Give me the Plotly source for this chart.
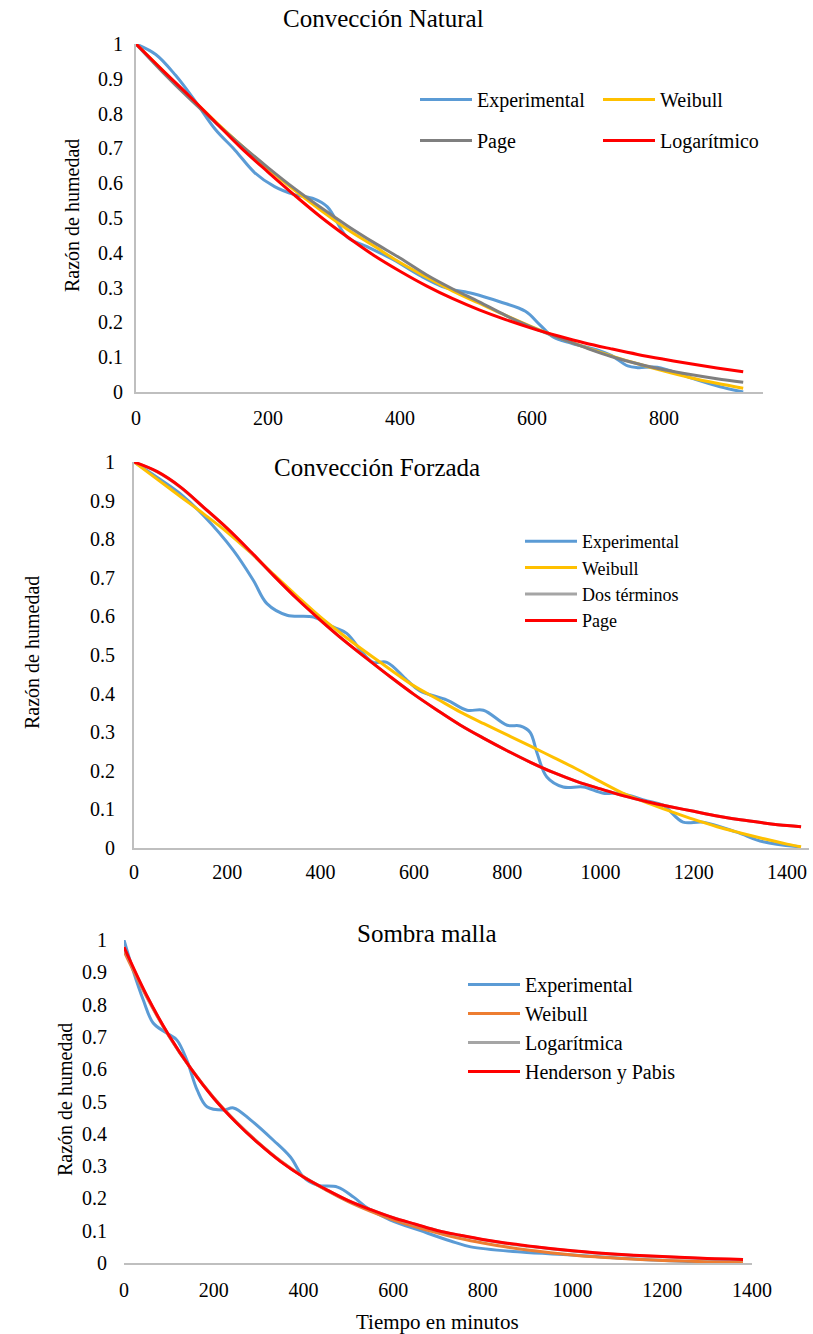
import plotly.graph_objects as go

W, H = 813, 1334

# ---------------- DATA ----------------
y_ticks = [0, 0.1, 0.2, 0.3, 0.4, 0.5, 0.6, 0.7, 0.8, 0.9, 1]
y_tick_text = ["0", "0.1", "0.2", "0.3", "0.4", "0.5", "0.6", "0.7", "0.8", "0.9", "1"]
x_ticks_nat = [0, 200, 400, 600, 800]
x_ticks_fz = [0, 200, 400, 600, 800, 1000, 1200, 1400]
x_ticks_sm = [0, 200, 400, 600, 800, 1000, 1200, 1400]

# Panel 1: Convección Natural
t_exp_nat = [0, 30, 60, 90, 120, 150, 180, 210, 240, 270, 290, 320, 350, 390, 430, 470,
             510, 550, 590, 612, 632, 660, 700, 720, 745, 760, 790, 835, 885, 920]
exp_nat = [1.0, 0.97, 0.91, 0.835, 0.755, 0.695, 0.63, 0.59, 0.567, 0.555, 0.532, 0.445,
           0.418, 0.38, 0.335, 0.299, 0.283, 0.26, 0.232, 0.193, 0.158, 0.14, 0.12, 0.105,
           0.075, 0.07, 0.071, 0.044, 0.015, 0.0]
t_mod_nat = [0, 40, 80, 120, 160, 200, 240, 280, 320, 360, 400, 440, 480, 520, 560, 600,
             640, 680, 720, 760, 800, 840, 880, 920]
weibull_nat = [1.0, 0.925, 0.85, 0.778, 0.708, 0.642, 0.58, 0.522, 0.468, 0.42, 0.372, 0.33,
               0.29, 0.255, 0.22, 0.187, 0.157, 0.129, 0.104, 0.081, 0.06, 0.041, 0.025, 0.011]
page_nat = [1.0, 0.92, 0.845, 0.775, 0.708, 0.645, 0.585, 0.53, 0.478, 0.43, 0.385, 0.337,
            0.296, 0.259, 0.22, 0.186, 0.156, 0.128, 0.102, 0.081, 0.064, 0.05, 0.038, 0.028]
log_nat = [1.0, 0.925, 0.852, 0.776, 0.70, 0.632, 0.566, 0.503, 0.446, 0.393, 0.347, 0.305,
           0.268, 0.236, 0.208, 0.183, 0.161, 0.141, 0.124, 0.108, 0.094, 0.081, 0.069, 0.058]

# Panel 2: Convección Forzada
t_exp_fz = [0, 50, 99, 150, 213, 256, 285, 328, 385, 428, 456, 492, 513, 542, 585, 613, 671,
            714, 749, 800, 828, 849, 864, 885, 920, 963, 1006, 1042, 1100, 1134, 1177, 1220,
            1292, 1349, 1428]
exp_fz = [1.0, 0.96, 0.918, 0.86, 0.771, 0.693, 0.633, 0.603, 0.598, 0.572, 0.556, 0.503,
          0.481, 0.481, 0.435, 0.407, 0.383, 0.357, 0.357, 0.318, 0.316, 0.30, 0.246, 0.184,
          0.158, 0.158, 0.142, 0.142, 0.122, 0.111, 0.067, 0.067, 0.041, 0.016, 0.003]
t_mod_fz = [0, 50, 100, 150, 200, 250, 300, 350, 400, 450, 500, 550, 600, 650, 700, 750, 800,
            850, 900, 950, 1000, 1050, 1100, 1150, 1200, 1250, 1300, 1350, 1400, 1430]
weibull_fz = [1.0, 0.955, 0.91, 0.865, 0.818, 0.765, 0.708, 0.652, 0.598, 0.55, 0.505, 0.462,
              0.42, 0.386, 0.352, 0.322, 0.293, 0.264, 0.234, 0.204, 0.172, 0.141, 0.117,
              0.095, 0.074, 0.055, 0.039, 0.024, 0.01, 0.003]
page_fz = [1.0, 0.975, 0.935, 0.882, 0.828, 0.768, 0.705, 0.645, 0.59, 0.538, 0.49, 0.443,
           0.398, 0.357, 0.318, 0.284, 0.252, 0.222, 0.195, 0.172, 0.153, 0.135, 0.12, 0.107,
           0.095, 0.083, 0.073, 0.065, 0.058, 0.055]
dos_terminos_fz = [1.0, 0.974, 0.934, 0.881, 0.827, 0.767, 0.705, 0.645, 0.59, 0.538, 0.49,
                   0.443, 0.398, 0.357, 0.318, 0.284, 0.252, 0.222, 0.195, 0.172, 0.153, 0.135,
                   0.12, 0.107, 0.095, 0.083, 0.073, 0.065, 0.058, 0.055]

# Panel 3: Sombra malla
t_exp_sm = [0, 20, 43, 65, 95, 118, 140, 163, 185, 222, 244, 282, 333, 371, 400, 431, 476,
            512, 543, 594, 661, 728, 773, 885, 997, 1108, 1258, 1376]
exp_sm = [1.0, 0.907, 0.814, 0.743, 0.712, 0.69, 0.628, 0.536, 0.484, 0.474, 0.48, 0.443,
          0.38, 0.328, 0.266, 0.241, 0.235, 0.204, 0.17, 0.133, 0.10, 0.068, 0.05, 0.034,
          0.025, 0.015, 0.005, 0.003]
t_mod_sm = [0, 50, 100, 150, 200, 250, 300, 350, 400, 450, 500, 550, 600, 650, 700, 750, 800,
            850, 900, 950, 1000, 1050, 1100, 1150, 1200, 1250, 1300, 1350, 1380]
weibull_sm = [0.965, 0.825, 0.703, 0.60, 0.512, 0.437, 0.372, 0.315, 0.267, 0.226, 0.19, 0.16,
              0.134, 0.112, 0.093, 0.076, 0.062, 0.05, 0.04, 0.032, 0.025, 0.019, 0.015,
              0.011, 0.008, 0.006, 0.004, 0.003, 0.002]
logaritmica_sm = [0.975, 0.828, 0.704, 0.60, 0.511, 0.436, 0.371, 0.314, 0.267, 0.228, 0.193,
                  0.165, 0.14, 0.119, 0.10, 0.085, 0.072, 0.061, 0.052, 0.044, 0.037, 0.031,
                  0.026, 0.022, 0.019, 0.016, 0.013, 0.011, 0.01]
henderson_sm = [0.978, 0.83, 0.705, 0.60, 0.51, 0.435, 0.37, 0.313, 0.266, 0.228, 0.193, 0.165,
                0.14, 0.12, 0.10, 0.086, 0.073, 0.062, 0.053, 0.045, 0.038, 0.032, 0.027,
                0.023, 0.02, 0.017, 0.014, 0.012, 0.011]

# ---------------- STYLE ----------------
FONT = "Liberation Serif, Times New Roman, serif"
BLUE = "#5B9BD5"
YELLOW = "#FFC000"
ORANGE = "#ED7D31"
GRAY_DARK = "#7F7F7F"
GRAY = "#A5A5A5"
RED = "#FF0000"
AXIS = "#BFBFBF"
LW = 3


def fx(p):
    return p / W


def fy(p):
    return 1 - p / H


fig = go.Figure()


def add(x, y, name, color, xa, ya, legend, group):
    fig.add_trace(go.Scatter(
        x=x, y=y, name=name, mode="lines",
        line=dict(color=color, width=LW, shape="spline", smoothing=1.0),
        xaxis=xa, yaxis=ya, legend=legend, legendgroup=group,
        hoverinfo="skip"))


# Panel 1
add(t_exp_nat, exp_nat, "Experimental", BLUE, "x", "y", "legend", "a1")
add(t_mod_nat, weibull_nat, "Weibull", YELLOW, "x", "y", "legend4", "b1")
add(t_mod_nat, page_nat, "Page", GRAY_DARK, "x", "y", "legend", "c1")
add(t_mod_nat, log_nat, "Logarítmico", RED, "x", "y", "legend4", "d1")
# Panel 2
add(t_exp_fz, exp_fz, "Experimental", BLUE, "x2", "y2", "legend2", "a2")
add(t_mod_fz, weibull_fz, "Weibull", YELLOW, "x2", "y2", "legend2", "b2")
add(t_mod_fz, dos_terminos_fz, "Dos términos", GRAY, "x2", "y2", "legend2", "c2")
add(t_mod_fz, page_fz, "Page", RED, "x2", "y2", "legend2", "d2")
# Panel 3
add(t_exp_sm, exp_sm, "Experimental", BLUE, "x3", "y3", "legend3", "a3")
add(t_mod_sm, weibull_sm, "Weibull", ORANGE, "x3", "y3", "legend3", "b3")
add(t_mod_sm, logaritmica_sm, "Logarítmica", GRAY, "x3", "y3", "legend3", "c3")
add(t_mod_sm, henderson_sm, "Henderson y Pabis", RED, "x3", "y3", "legend3", "d3")

tickfont = dict(family=FONT, size=20, color="#000000")


def xaxis(dom, rng, ticks, anchor, standoff):
    return dict(domain=[fx(dom[0]), fx(dom[1])], range=rng, tickmode="array",
                tickvals=ticks, ticktext=[str(t) for t in ticks], showgrid=False,
                zeroline=False, showline=True, linecolor=AXIS, linewidth=2,
                ticks="", tickfont=tickfont, anchor=anchor, automargin=False,
                ticklabelstandoff=standoff, fixedrange=True)


def yaxis(dom, anchor, showline, standoff):
    return dict(domain=[fy(dom[1]), fy(dom[0])], range=[0, 1], tickmode="array",
                tickvals=y_ticks, ticktext=y_tick_text, showgrid=False, zeroline=False,
                showline=showline, linecolor=AXIS, linewidth=2, ticks="",
                tickfont=tickfont, anchor=anchor, ticklabelstandoff=standoff,
                automargin=False, fixedrange=True)


def legend(xp, yp, gap, size=20):
    return dict(x=fx(xp), y=fy(yp), xanchor="left", yanchor="top", orientation="v",
                bgcolor="rgba(0,0,0,0)", borderwidth=0, itemwidth=52,
                tracegroupgap=gap, font=dict(family=FONT, size=size, color="#000000"),
                itemclick=False, itemdoubleclick=False)


annotations = [
    dict(text="Convección Natural", x=fx(383), y=fy(19)),
    dict(text="Convección Forzada", x=fx(377), y=fy(468)),
    dict(text="Sombra malla", x=fx(427), y=fy(933)),
]
annotations = [dict(a, xref="paper", yref="paper", showarrow=False, xanchor="center",
                    yanchor="middle", font=dict(family=FONT, size=25, color="#000000"))
               for a in annotations]
for xp, yp in [(72, 216), (32, 653), (65, 1100)]:
    annotations.append(dict(text="Razón de humedad", x=fx(xp), y=fy(yp), xref="paper",
                            yref="paper", showarrow=False, textangle=-90,
                            xanchor="center", yanchor="middle",
                            font=dict(family=FONT, size=20, color="#000000")))
annotations.append(dict(text="Tiempo en minutos", x=fx(437), y=fy(1322), xref="paper",
                        yref="paper", showarrow=False, xanchor="center", yanchor="middle",
                        font=dict(family=FONT, size=21, color="#000000")))

fig.update_layout(
    width=W, height=H, autosize=False,
    margin=dict(l=0, r=0, t=0, b=0, autoexpand=False),
    paper_bgcolor="white", plot_bgcolor="white",
    showlegend=True,
    xaxis=xaxis((136, 763), [0, 950], x_ticks_nat, "y", 7),
    yaxis=yaxis((44, 392), "x", True, 7),
    xaxis2=xaxis((134, 809), [0, 1447], x_ticks_fz, "y2", 5),
    yaxis2=yaxis((462, 848), "x2", True, 13),
    xaxis3=xaxis((124, 752), [0, 1400], x_ticks_sm, "y3", 8),
    yaxis3=yaxis((940, 1263), "x3", False, 16),
    legend=legend(415, 80, 12),
    legend4=legend(598, 80, 12),
    legend2=legend(520, 523, 0, 18),
    legend3=legend(463, 965, 0),
    annotations=annotations,
)

fig.write_html(
    "out.html",
    config={"displayModeBar": False},
    post_script="document.body.style.margin='0';document.body.style.overflow='hidden';",
)
